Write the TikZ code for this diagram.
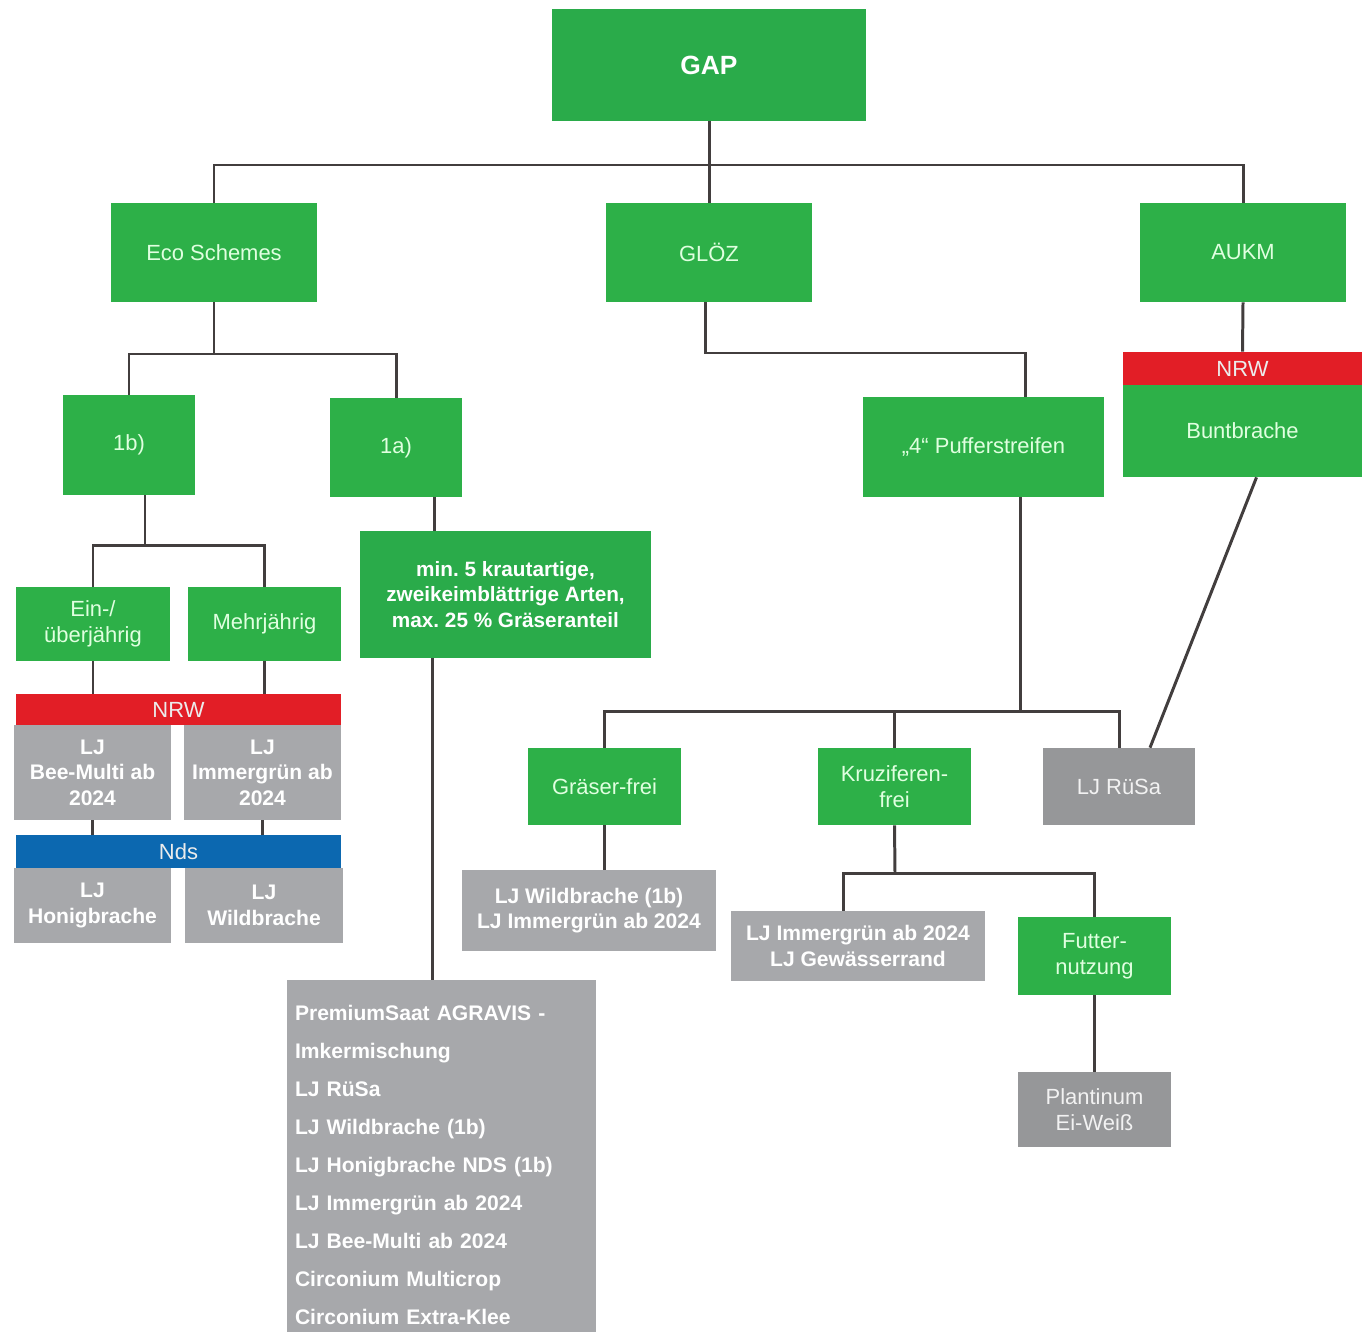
\documentclass[tikz,border=0pt]{standalone}
\usepackage{fontspec}
\setmainfont{Liberation Sans}
\frenchspacing
\usetikzlibrary{positioning, calc}
\definecolor{gapgreen}{RGB}{42,171,74}
\definecolor{scangreen}{RGB}{45,176,72}
\definecolor{boxgray}{RGB}{167,168,171}
\definecolor{scangray}{RGB}{150,151,153}
\definecolor{nrwred}{RGB}{226,30,38}
\definecolor{ndsblue}{RGB}{12,104,176}
\definecolor{linegray}{RGB}{66,62,62}
\begin{document}
\begin{tikzpicture}[
    x=0.02cm, y=-0.02cm,
    line/.style={draw=linegray, line width=1.7pt},
    sz/.style 2 args={minimum width=#1*0.02cm, minimum height=#2*0.02cm},
    box/.style={rectangle, inner sep=2pt, align=center, text=white},
    grn/.style={box, fill=gapgreen, font=\fontsize{11.8}{14.5}\selectfont\bfseries},
    scan/.style={box, fill=scangreen, text=white!88!green,
                 font=\fontsize{12.5}{15}\selectfont},
    scangry/.style={scan, fill=scangray, text=white!90!gray},
    gry/.style={box, fill=boxgray, font=\fontsize{12}{14.5}\selectfont\bfseries},
    bar/.style={box, text=white!85!gray, font=\fontsize{12.5}{15}\selectfont},
]
\useasboundingbox (0,0) rectangle (1368,1332);
% top level
\node[grn, sz={314}{112}, font=\fontsize{15}{18}\selectfont\bfseries] (gap) at (709,65) {GAP};
\node[scan, sz={206}{99}] (eco)  at (214,252.5)  {Eco Schemes};
\node[scan, sz={206}{99}] (gloz) at (709,252.5)  {GLÖZ};
\node[scan, sz={206}{99}] (aukm) at (1243,252.5) {AUKM};
% Eco Schemes branch
\node[scan, sz={132}{100}] (ib) at (129,445)   {1b)};
\node[scan, sz={132}{99}]  (ia) at (396,447.5) {1a)};
\node[scan, sz={154}{74}] (ein)  at (93,624)    {Ein-/\\überjährig};
\node[scan, sz={153}{74}] (mehr) at (264.5,624) {Mehrjährig};
\node[bar, fill=nrwred, sz={325}{31}] (nrwL) at (178.5,709.5) {NRW};
\node[gry, sz={157}{95}] (bee)   at (92.5,772.5)  {LJ\\Bee-Multi ab\\2024};
\node[gry, sz={157}{95}] (immer) at (262.5,772.5) {LJ\\Immergrün ab\\2024};
\node[bar, fill=ndsblue, sz={325}{33}] (nds) at (178.5,851.5) {Nds};
\node[gry, sz={157}{75}] (honig) at (92.5,905.5) {LJ\\Honigbrache};
\node[gry, sz={158}{75}] (wild)  at (264,905.5)  {LJ\\Wildbrache};
\node[grn, sz={291}{127}] (crit) at (505.5,594.5)
   {min. 5 krautartige,\\zweikeimblättrige Arten,\\max. 25 \% Gräseranteil};
\node[gry, sz={309}{352}, text width=293*0.02cm, align=left, inner xsep=8*0.02cm,
      font=\fontsize{12}{21.6}\selectfont\bfseries] (liste) at (441.5,1156)
   {\rule{0pt}{19pt}PremiumSaat AGRAVIS -\\Imkermischung\\LJ RüSa\\LJ Wildbrache (1b)\\
    LJ Honigbrache NDS (1b)\\LJ Immergrün ab 2024\\LJ Bee-Multi ab 2024\\
    Circonium Multicrop\\Circonium Extra-Klee};
% GLÖZ branch
\node[scan, sz={241}{100}] (puffer) at (983.5,447) {„4“ Pufferstreifen};
\node[scan, sz={153}{77}] (graeser) at (604.5,786.5) {Gräser-frei};
\node[scan, sz={153}{77}] (kruz)    at (894.5,786.5) {Kruziferen-\\frei};
\node[scangry, sz={152}{77}] (ruesa) at (1119,786.5) {LJ RüSa};
\node[gry, sz={254}{81}] (graeserL) at (589,910.5) {LJ Wildbrache (1b)\\LJ Immergrün ab 2024};
\node[gry, sz={254}{70}] (kruzL)    at (858,946)   {LJ Immergrün ab 2024\\LJ Gewässerrand};
\node[scan, sz={153}{78}] (futter)   at (1094.5,956)    {Futter-\\nutzung};
\node[scangry, sz={153}{75}] (plant) at (1094.5,1109.5) {Plantinum\\Ei-Weiß};
% AUKM branch
\node[bar, fill=nrwred, sz={239}{33}] (nrwR) at (1242.5,368.5) {NRW};
\node[scan, sz={239}{92}] (bunt) at (1242.5,431) {Buntbrache};
% bus points
\coordinate (gapbus)  at (709,165);
\coordinate (ecobus)  at (214,354);
\coordinate (ibbus)   at (145,545);
\coordinate (glozbus) at (1025,353);
\coordinate (pufbus)  at (1020,711);
\coordinate (kruzbus) at (895,873);
\coordinate (iaout)   at ($(ia.south)+(38,0)$);
\coordinate (critout) at ($(crit.south)+(-73,0)$);
% connectors
\draw[line] (gap.south) -- (gapbus);
\draw[line] (eco.north) |- (gapbus) -| (aukm.north);
\draw[line] (gapbus) -- (gloz.north);
\draw[line] (eco.south) -- (ecobus);
\draw[line] (ib.north) |- (ecobus) -| (ia.north);
\draw[line] (ibbus |- ib.south) -- (ibbus);
\draw[line] (ein.north) |- (ibbus) -| (mehr.north);
\draw[line] (ein.south) -- (ein.south |- nrwL.north);
\draw[line] (mehr.south) -- (mehr.south |- nrwL.north);
\draw[line] (bee.south) -- (bee.south |- nds.north);
\draw[line] (immer.south) -- (immer.south |- nds.north);
\draw[line] (iaout) -- (iaout |- crit.north);
\draw[line] (critout) -- (critout |- liste.north);
\draw[line] ($(gloz.south)+(-4,0)$) |- (glozbus) -- (glozbus |- puffer.north);
\draw[line] (pufbus |- puffer.south) -- (pufbus);
\draw[line] (graeser.north) |- (pufbus) -| (ruesa.north);
\draw[line] (kruz.north) -- (kruz.north |- pufbus);
\draw[line] (aukm.south) -- (nrwR.north);
\draw[line] ($(bunt.south)+(14,0)$) -- ($(ruesa.north)+(31,0)$);
\draw[line] (graeser.south) -- (graeser.south |- graeserL.north);
\draw[line] (kruz.south) -- (kruzbus);
\draw[line] ($(kruzL.north)+(-15,0)$) |- (kruzbus) -| (futter.north);
\draw[line] (futter.south) -- (plant.north);
\end{tikzpicture}
\end{document}
